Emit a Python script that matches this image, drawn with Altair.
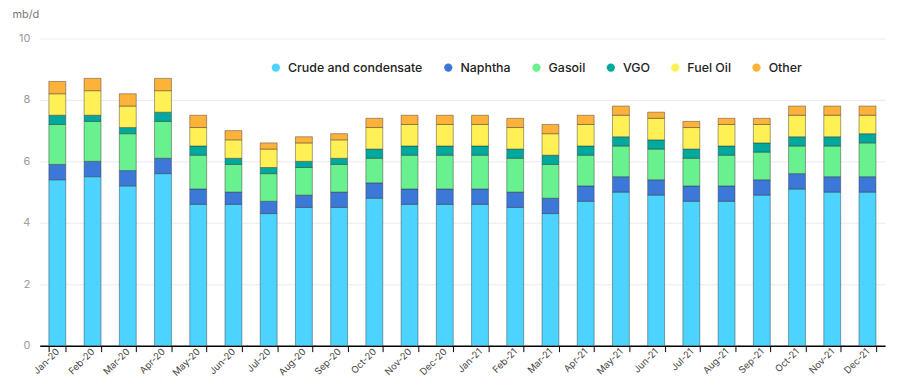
import altair as alt
import pandas as pd

months = ["Jan-20", "Feb-20", "Mar-20", "Apr-20", "May-20", "Jun-20", "Jul-20", "Aug-20",
          "Sep-20", "Oct-20", "Nov-20", "Dec-20", "Jan-21", "Feb-21", "Mar-21", "Apr-21",
          "May-21", "Jun-21", "Jul-21", "Aug-21", "Sep-21", "Oct-21", "Nov-21", "Dec-21"]

crude = [5.4, 5.5, 5.2, 5.6, 4.6, 4.6, 4.3, 4.5, 4.5, 4.8, 4.6, 4.6,
         4.6, 4.5, 4.3, 4.7, 5.0, 4.9, 4.7, 4.7, 4.9, 5.1, 5.0, 5.0]
naphtha = [0.5, 0.5, 0.5, 0.5, 0.5, 0.4, 0.4, 0.4, 0.5, 0.5, 0.5, 0.5,
           0.5, 0.5, 0.5, 0.5, 0.5, 0.5, 0.5, 0.5, 0.5, 0.5, 0.5, 0.5]
gasoil = [1.3, 1.3, 1.2, 1.2, 1.1, 0.9, 0.9, 0.9, 0.9, 0.8, 1.1, 1.1,
          1.1, 1.1, 1.1, 1.0, 1.0, 1.0, 0.9, 1.0, 0.9, 0.9, 1.0, 1.1]
vgo = [0.3, 0.2, 0.2, 0.3, 0.3, 0.2, 0.2, 0.2, 0.2, 0.3, 0.3, 0.3,
       0.3, 0.3, 0.3, 0.3, 0.3, 0.3, 0.3, 0.3, 0.3, 0.3, 0.3, 0.3]
fuel_oil = [0.7, 0.8, 0.7, 0.7, 0.6, 0.6, 0.6, 0.6, 0.6, 0.7, 0.7, 0.7,
            0.7, 0.7, 0.7, 0.7, 0.7, 0.7, 0.7, 0.7, 0.6, 0.7, 0.7, 0.6]
other = [0.4, 0.4, 0.4, 0.4, 0.4, 0.3, 0.2, 0.2, 0.2, 0.3, 0.3, 0.3,
         0.3, 0.3, 0.3, 0.3, 0.3, 0.2, 0.2, 0.2, 0.2, 0.3, 0.3, 0.3]

series_names = ["Crude and condensate", "Naphtha", "Gasoil", "VGO", "Fuel Oil", "Other"]
series_values = [crude, naphtha, gasoil, vgo, fuel_oil, other]
colors = ["#4CD3FF", "#3C78D8", "#69F08F", "#00A99D", "#FFF055", "#FFB23A"]

rows = []
for si, (name, vals) in enumerate(zip(series_names, series_values)):
    for m, v in zip(months, vals):
        rows.append({"month": m, "product": name, "value": v, "order": si})
df = pd.DataFrame(rows)

chart = alt.Chart(df).mark_bar(
    stroke="#333", strokeWidth=1, strokeOpacity=0.45
).encode(
    x=alt.X("month:N", sort=months, title=None,
            scale=alt.Scale(paddingInner=0.52, paddingOuter=0.26),
            axis=alt.Axis(labelAngle=-45, labelAlign="right", labelBaseline="middle",
                          labelFontSize=9.5, labelColor="#444", labelFont="Inter",
                          tickBand="extent", tickColor="#000", tickSize=6,
                          domainColor="#000", domainWidth=1.5, tickWidth=1,
                          labelPadding=-2, grid=False)),
    y=alt.Y("value:Q", stack="zero", title="mb/d",
            scale=alt.Scale(domain=[0, 10]),
            axis=alt.Axis(values=[0, 2, 4, 6, 8, 10], domain=False, ticks=False,
                          labelColor="#999", labelFontSize=11, labelFont="Inter",
                          labelPadding=10, gridColor="#ebebeb",
                          titleAngle=0, titleAlign="left", titleBaseline="middle",
                          titleX=-28, titleY=-24, titleFontSize=11,
                          titleFontWeight="normal", titleColor="#777", titleFont="Inter")),
    color=alt.Color("product:N", sort=series_names,
                    scale=alt.Scale(domain=series_names, range=colors),
                    legend=alt.Legend(title=None, orient="none", direction="horizontal",
                                      columns=6, legendX=232, legendY=23,
                                      symbolType="circle", symbolSize=70,
                                      symbolStrokeWidth=0, labelFontSize=12.5,
                                      labelFont="Inter", labelFontWeight=500,
                                      labelColor="#222", columnPadding=19,
                                      labelOffset=6)),
    order=alt.Order("order:Q"),
).properties(
    width=853, height=310,
    autosize=alt.AutoSizeParams(type="none"),
    padding={"left": 32, "top": 29, "right": 9, "bottom": 43},
).configure_view(stroke=None)

chart.save("out.html", embed_options={"renderer": "svg", "actions": False})
